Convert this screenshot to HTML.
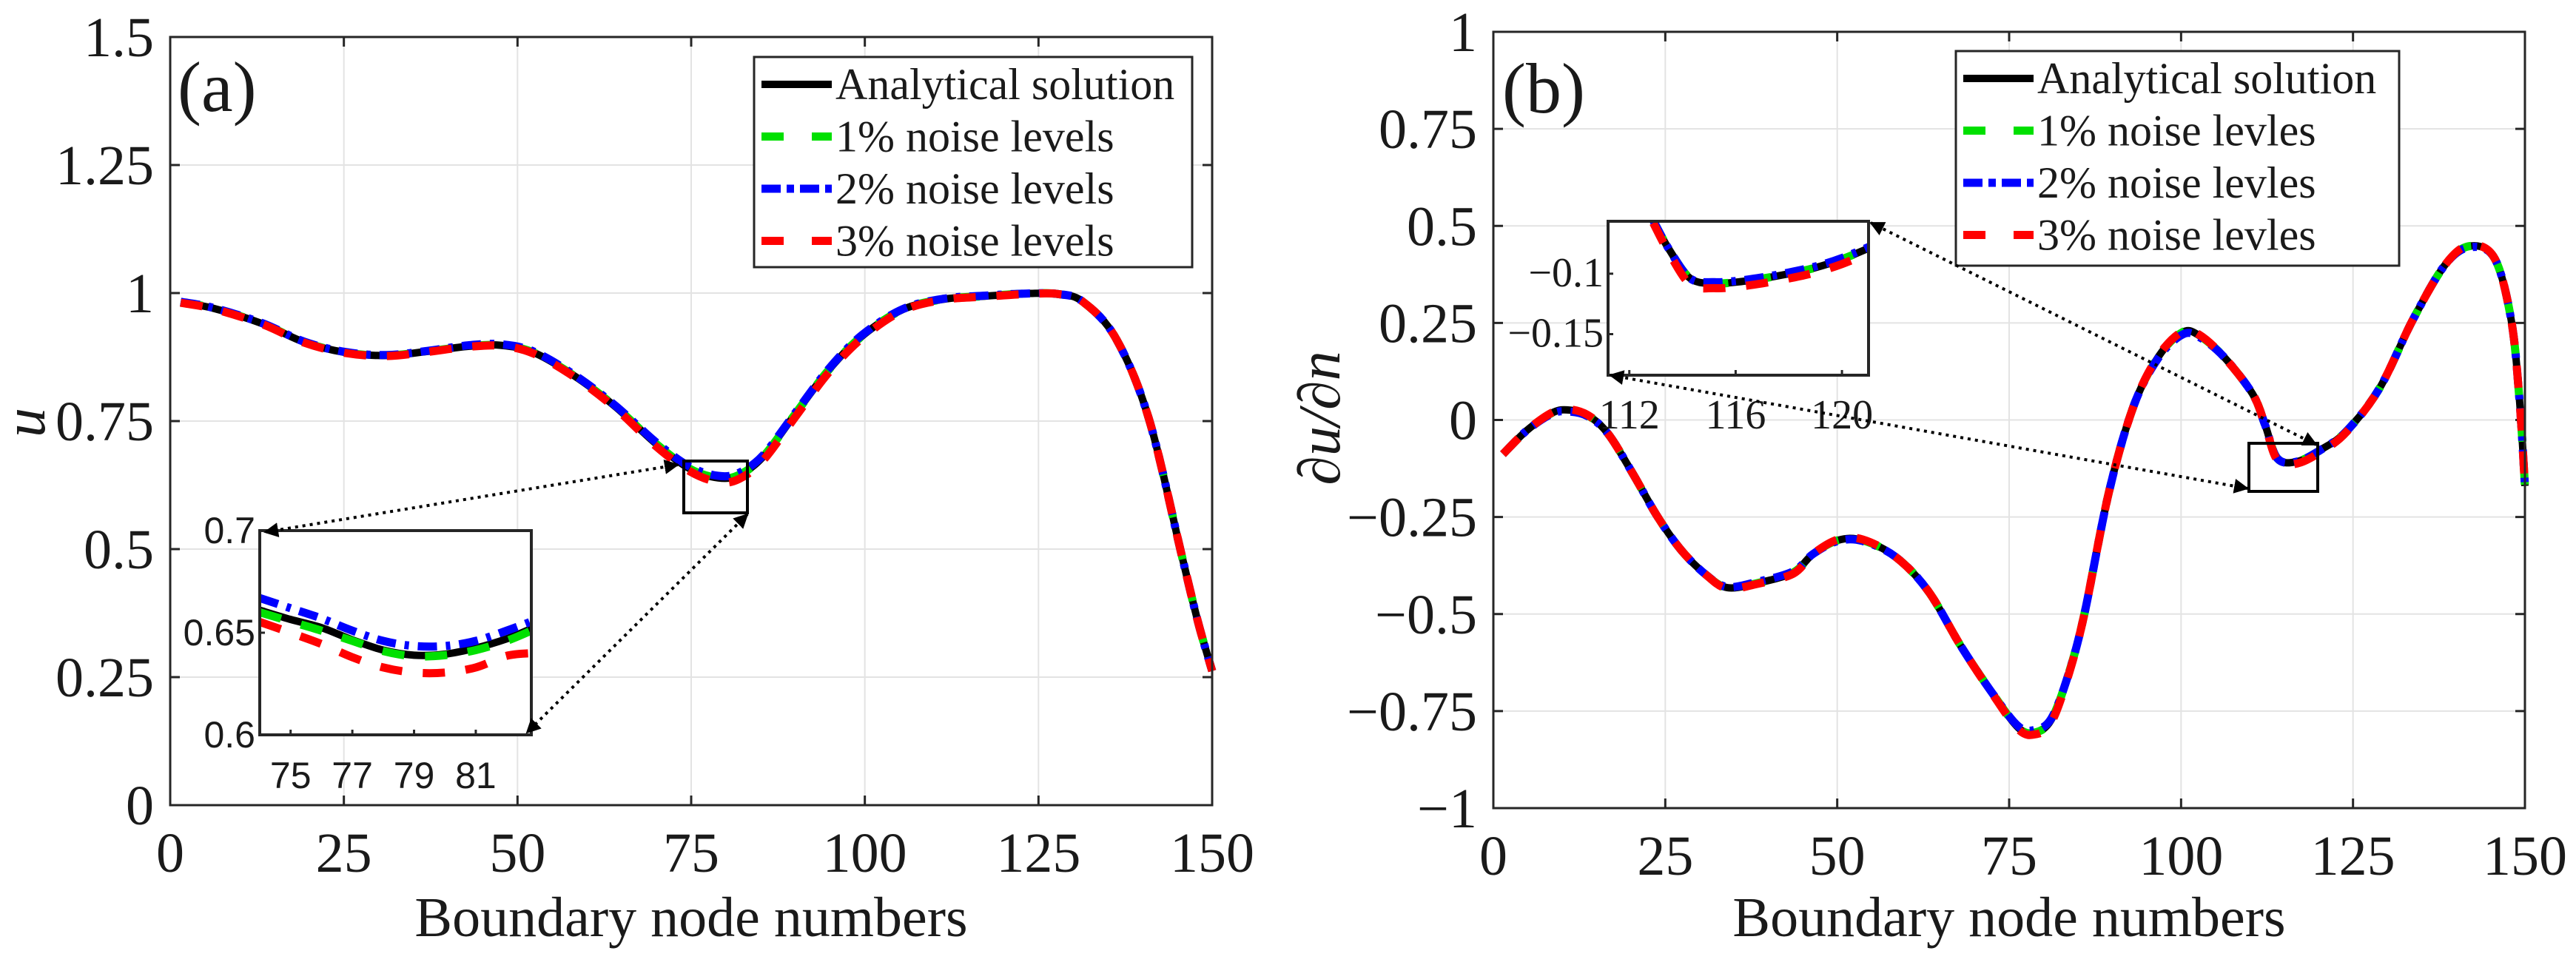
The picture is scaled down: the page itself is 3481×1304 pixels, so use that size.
<!DOCTYPE html>
<html><head><meta charset="utf-8">
<style>
html,body{margin:0;padding:0;background:#fff;}
svg{display:block;}
text{font-family:"Liberation Serif",serif;fill:#1a1a1a;}
.sans{font-family:"Liberation Sans",sans-serif;}
</style></head>
<body>
<svg id="fig" width="3481" height="1304" viewBox="0 0 3481 1304" xmlns="http://www.w3.org/2000/svg">
<defs>
<marker id="ah" viewBox="0 0 10 10" refX="9" refY="5" markerWidth="5" markerHeight="5" orient="auto-start-reverse"><path d="M0,0 L10,5 L0,10 z" fill="#000"/></marker>
<clipPath id="clipA"><rect x="351" y="717" width="367" height="276"/></clipPath>
<clipPath id="clipB"><rect x="2173" y="299" width="352" height="208"/></clipPath>
</defs>
</svg>
<script>
// ---- Panel (a) data ----
const nodesA=[1.5,6.3,13.3,19.3,25.2,31.1,37,42.9,47.6,52.3,58.2,64.1,70,74.8,78.9,81.9,85.4,90.1,94.8,99.6,105.5,111.4,117.3,123.2,127.9,131.5,136.2,140.9,145.6,148,150];
const exactA=[0.982,0.970,0.940,0.904,0.884,0.878,0.886,0.896,0.898,0.884,0.838,0.778,0.705,0.657,0.639,0.645,0.681,0.766,0.850,0.916,0.968,0.988,0.994,0.999,0.998,0.982,0.910,0.754,0.489,0.356,0.262];
const noise1A=[0.982,0.970,0.940,0.904,0.884,0.878,0.886,0.896,0.898,0.884,0.838,0.778,0.705,0.657,0.639,0.645,0.681,0.766,0.850,0.916,0.968,0.988,0.994,0.999,0.998,0.982,0.910,0.754,0.489,0.356,0.262];
const noise2A=[0.983,0.971,0.941,0.905,0.885,0.879,0.887,0.898,0.900,0.886,0.840,0.780,0.708,0.661,0.643,0.649,0.684,0.768,0.852,0.918,0.969,0.989,0.995,0.999,0.998,0.982,0.910,0.754,0.489,0.356,0.262];
const noise3A=[0.981,0.969,0.939,0.903,0.883,0.877,0.885,0.895,0.897,0.882,0.836,0.775,0.700,0.652,0.631,0.637,0.674,0.760,0.845,0.912,0.966,0.987,0.993,0.998,0.998,0.982,0.910,0.754,0.489,0.356,0.262];
const insetNodesA=[74,75,76,77,78,79,80,81,82,82.8];
const insetExactA=[0.661,0.6565,0.6525,0.6465,0.6415,0.639,0.6395,0.6425,0.647,0.652];
const insetN1A=[0.660,0.6555,0.651,0.646,0.641,0.6385,0.639,0.6415,0.646,0.651];
const insetN2A=[0.667,0.662,0.657,0.651,0.646,0.6435,0.6435,0.646,0.651,0.6555];
const insetN3A=[0.6553,0.650,0.6445,0.638,0.633,0.6305,0.6305,0.633,0.6387,0.640];
const yTicksA=[0,0.25,0.5,0.75,1,1.25,1.5];
const yTickLabelsA=["0","0.25","0.5","0.75","1","1.25","1.5"];
const xTicks=[0,25,50,75,100,125,150];
const xTickLabels=["0","25","50","75","100","125","150"];
const insetXTicksA=[75,77,79,81];
const insetYTicksA=[0.6,0.65,0.7];
// ---- Panel (b) data ----
const nodesB=[1.4,4.8,8.4,10.7,13.7,16.7,20.3,23.9,27.4,31,34,38.2,43.6,46.5,50.1,53.7,58.5,63.2,68,72.8,76.4,78.8,81.1,83.5,85.9,89.5,93.1,96.7,100.2,102.6,106.2,110.4,112.2,114,116.9,120.5,124.1,128.9,133.7,138.4,142,145.6,148,149.2,150];
const exactB=[-0.088,-0.028,0.017,0.026,0.012,-0.036,-0.139,-0.250,-0.337,-0.400,-0.432,-0.421,-0.393,-0.345,-0.310,-0.310,-0.353,-0.440,-0.583,-0.710,-0.794,-0.805,-0.773,-0.662,-0.503,-0.186,0.036,0.163,0.226,0.218,0.163,0.067,-0.012,-0.099,-0.107,-0.075,-0.028,0.083,0.258,0.400,0.448,0.416,0.258,0.052,-0.170];
const noise1B=exactB.slice();
const noise2B=[-0.088,-0.028,0.015,0.022,0.010,-0.036,-0.139,-0.250,-0.337,-0.400,-0.430,-0.418,-0.390,-0.345,-0.312,-0.312,-0.353,-0.440,-0.583,-0.710,-0.790,-0.798,-0.770,-0.662,-0.503,-0.186,0.036,0.160,0.220,0.214,0.163,0.067,-0.012,-0.099,-0.107,-0.075,-0.028,0.083,0.258,0.400,0.445,0.416,0.258,0.052,-0.170];
const noise3B=[-0.088,-0.028,0.018,0.028,0.013,-0.036,-0.139,-0.250,-0.337,-0.400,-0.434,-0.423,-0.396,-0.345,-0.308,-0.308,-0.353,-0.440,-0.583,-0.712,-0.798,-0.810,-0.780,-0.665,-0.503,-0.186,0.036,0.165,0.228,0.220,0.163,0.067,-0.012,-0.103,-0.112,-0.080,-0.030,0.083,0.258,0.400,0.450,0.416,0.258,0.052,-0.170];
const insetNodesB=[112.9,113.5,114.3,115.2,116,117,118,119,120,121.1];
const insetExactB=[-0.056,-0.080,-0.104,-0.108,-0.107,-0.104,-0.100,-0.095,-0.088,-0.078];
const insetN1B=[-0.056,-0.080,-0.104,-0.108,-0.107,-0.104,-0.100,-0.095,-0.088,-0.078];
const insetN2B=[-0.056,-0.080,-0.104,-0.107,-0.106,-0.103,-0.099,-0.094,-0.087,-0.077];
const insetN3B=[-0.058,-0.083,-0.109,-0.112,-0.111,-0.108,-0.104,-0.099,-0.092,-0.082];
const yTicksB=[-1,-0.75,-0.5,-0.25,0,0.25,0.5,0.75,1];
const yTickLabelsB=["\u22121","\u22120.75","\u22120.5","\u22120.25","0","0.25","0.5","0.75","1"];
const insetXTicksB=[112,116,120];
const insetYTicksB=[-0.15,-0.1];
const insetYLabelsB=["\u22120.15","\u22120.1"];

const NS="http://www.w3.org/2000/svg";
const svg=document.getElementById('fig');
function mk(tag,attrs,parent){const e=document.createElementNS(NS,tag);for(const k in attrs)e.setAttribute(k,attrs[k]);(parent||svg).appendChild(e);return e;}
function path(xs,ys,sx,sy){const p=xs.map((x,i)=>[sx(x),sy(ys[i])]);let d="M"+p[0][0].toFixed(1)+","+p[0][1].toFixed(1);
 for(let i=0;i<p.length-1;i++){const p0=p[i-1]||p[i],p1=p[i],p2=p[i+1],p3=p[i+2]||p2;
 const c1=[p1[0]+(p2[0]-p0[0])/6,p1[1]+(p2[1]-p0[1])/6],c2=[p2[0]-(p3[0]-p1[0])/6,p2[1]-(p3[1]-p1[1])/6];
 d+=" C"+c1.map(v=>v.toFixed(1))+" "+c2.map(v=>v.toFixed(1))+" "+p2[0].toFixed(1)+","+p2[1].toFixed(1);}return d;}
const styles=[{c:"#000",w:10,da:""},{c:"#00e000",w:11,da:"30,28"},{c:"#0000ff",w:11,da:"26,12,6,12"},{c:"#ff0000",w:11,da:"30,28"}];
const names=["analytical","noise-1pct","noise-2pct","noise-3pct"];

function panel(o){
 const g=mk('g',{});
 
 
 const sx=v=>o.x0+(v-o.xmin)/(o.xmax-o.xmin)*(o.x1-o.x0);
 const sy=v=>o.y1-(v-o.ymin)/(o.ymax-o.ymin)*(o.y1-o.y0);
 xTicks.forEach(t=>{const l=mk('line',{x1:sx(t),x2:sx(t),y1:o.y0,y2:o.y1,stroke:"#e3e3e3","stroke-width":2},g);});
 o.yt.forEach(t=>{const l=mk('line',{x1:o.x0,x2:o.x1,y1:sy(t),y2:sy(t),stroke:"#e3e3e3","stroke-width":2},g);});
 xTicks.forEach((t,i)=>{mk('line',{x1:sx(t),x2:sx(t),y1:o.y1,y2:o.y1-13,stroke:"#262626","stroke-width":3},g);mk('line',{x1:sx(t),x2:sx(t),y1:o.y0,y2:o.y0+13,stroke:"#262626","stroke-width":3},g);
  const tx=mk('text',{x:sx(t),y:o.y1+90,"text-anchor":"middle","font-size":76},g);tx.textContent=xTickLabels[i];});
 o.yt.forEach((t,i)=>{mk('line',{x1:o.x0,x2:o.x0+13,y1:sy(t),y2:sy(t),stroke:"#262626","stroke-width":3},g);mk('line',{x1:o.x1,x2:o.x1-13,y1:sy(t),y2:sy(t),stroke:"#262626","stroke-width":3},g);
  const tx=mk('text',{x:o.x0-22,y:sy(t)+26,"text-anchor":"end","font-size":76},g);tx.textContent=o.ytl[i];});
 o.series.forEach((s,i)=>{const p=mk('path',{d:path(o.nodes,s,sx,sy),fill:"none",stroke:styles[i].c,"stroke-width":styles[i].w,"stroke-dasharray":styles[i].da,"stroke-linejoin":"round"},g);});
 const b=mk('rect',{x:o.x0,y:o.y0,width:o.x1-o.x0,height:o.y1-o.y0,fill:"none",stroke:"#262626","stroke-width":3},g);
 const xl=mk('text',{x:(o.x0+o.x1)/2,y:1265,"text-anchor":"middle","font-size":76},g);xl.textContent="Boundary node numbers";
 const yl=mk('text',{x:o.ylx,y:o.yly,"text-anchor":"middle","font-size":80,"font-style":"italic",transform:`rotate(-90 ${o.ylx} ${o.yly})`},g);yl.textContent=o.ylabel;
 const pl=mk('text',{x:o.plx,y:o.ply,"font-size":96},g);pl.textContent=o.plabel;
 const lg=mk('g',{},g);
 mk('rect',{x:o.lx0,y:o.ly0,width:o.lx1-o.lx0,height:o.ly1-o.ly0,fill:"#fff",stroke:"#262626","stroke-width":3},lg);
 o.legText.forEach((t,i)=>{const yy=o.ly0+37+i*70.5;
  const ln=mk('line',{x1:o.lx0+10,x2:o.lx0+105,y1:yy,y2:yy,stroke:styles[i].c,"stroke-width":styles[i].w,"stroke-dasharray":i==0?"":(i==2?"26,8,10,8":"30,38")},lg);
  const tx=mk('text',{x:o.lx0+110,y:yy+20,"font-size":60},lg);tx.textContent=t;});
 const zb=mk('rect',{x:o.zb[0],y:o.zb[1],width:o.zb[2]-o.zb[0],height:o.zb[3]-o.zb[1],fill:"none",stroke:"#000","stroke-width":4},g);
 const I=o.inset;const ix=v=>I.x0+(v-I.xmin)/(I.xmax-I.xmin)*(I.x1-I.x0);const iy=v=>I.y1-(v-I.ymin)/(I.ymax-I.ymin)*(I.y1-I.y0);
 const ig=mk('g',{},g);
 mk('rect',{x:I.x0,y:I.y0,width:I.x1-I.x0,height:I.y1-I.y0,fill:"#fff"},ig);
 const cg=mk('g',{"clip-path":I.clip},ig);
 I.series.forEach((s,i)=>{const p=mk('path',{d:path(I.nodes,s,ix,iy),fill:"none",stroke:styles[i].c,"stroke-width":styles[i].w,"stroke-dasharray":styles[i].da},cg);});
 mk('rect',{x:I.x0,y:I.y0,width:I.x1-I.x0,height:I.y1-I.y0,fill:"none",stroke:"#262626","stroke-width":4},ig);
 I.xt.forEach(t=>{mk('line',{x1:ix(t),x2:ix(t),y1:I.y1,y2:I.y1-7,stroke:"#262626","stroke-width":3},ig);
  const tx=mk('text',{x:ix(t),y:I.y1+I.xly,"text-anchor":"middle","font-size":I.fs,class:I.cls},ig);tx.textContent=String(t);});
 I.yt.forEach((t,i)=>{mk('line',{x1:I.x0,x2:I.x0+7,y1:iy(t),y2:iy(t),stroke:"#262626","stroke-width":3},ig);
  const tx=mk('text',{x:I.x0-6,y:iy(t)+17,"text-anchor":"end","font-size":I.fs,class:I.cls},ig);tx.textContent=I.ytl[i];});
 o.arrows.forEach(a=>{const l=mk('line',{x1:a[0],y1:a[1],x2:a[2],y2:a[3],stroke:"#000","stroke-width":4,"stroke-dasharray":"4,6","marker-end":"url(#ah)","marker-start":"url(#ah)"},g);});
}
panel({id:"a",x0:230,x1:1638,y0:50,y1:1088,xmin:0,xmax:150,ymin:0,ymax:1.5,yt:yTicksA,ytl:yTickLabelsA,
 nodes:nodesA,series:[exactA,noise1A,noise2A,noise3A],ylabel:"u",ylx:60,yly:571,plabel:"(a)",plx:240,ply:150,
 lx0:1019,lx1:1611,ly0:77,ly1:361,legText:["Analytical solution","1% noise levels","2% noise levels","3% noise levels"],
 zb:[924,623,1010,693],
 inset:{x0:351,x1:718,y0:717,y1:993,xmin:74,xmax:82.8,ymin:0.6,ymax:0.7,nodes:insetNodesA,series:[insetExactA,insetN1A,insetN2A,insetN3A],
  xt:insetXTicksA,yt:insetYTicksA,ytl:["0.6","0.65","0.7"],fs:50,cls:"sans",xly:72,clip:"url(#clipA)"},
 arrows:[[916,628,358,719],[1010,695,712,990]]});
panel({id:"b",x0:2018,x1:3412,y0:43,y1:1092,xmin:0,xmax:150,ymin:-1,ymax:1,yt:yTicksB,ytl:yTickLabelsB,
 nodes:nodesB,series:[exactB,noise1B,noise2B,noise3B],ylabel:"\u2202u/\u2202n",ylx:1810,yly:565,plabel:"(b)",plx:2030,ply:152,
 lx0:2643,lx1:3242,ly0:69,ly1:359,legText:["Analytical solution","1% noise levles","2% noise levles","3% noise levles"],
 zb:[3039,599,3132,664],
 inset:{x0:2173,x1:2525,y0:299,y1:507,xmin:111.2,xmax:121.0,ymin:-0.184,ymax:-0.0566,nodes:insetNodesB,series:[insetExactB,insetN1B,insetN2B,insetN3B],
  xt:insetXTicksB,yt:insetYTicksB,ytl:insetYLabelsB,fs:56,cls:"",xly:72,clip:"url(#clipB)"},
 arrows:[[3130,601,2528,301],[3037,660,2176,507]]});
</script>
</body></html>
